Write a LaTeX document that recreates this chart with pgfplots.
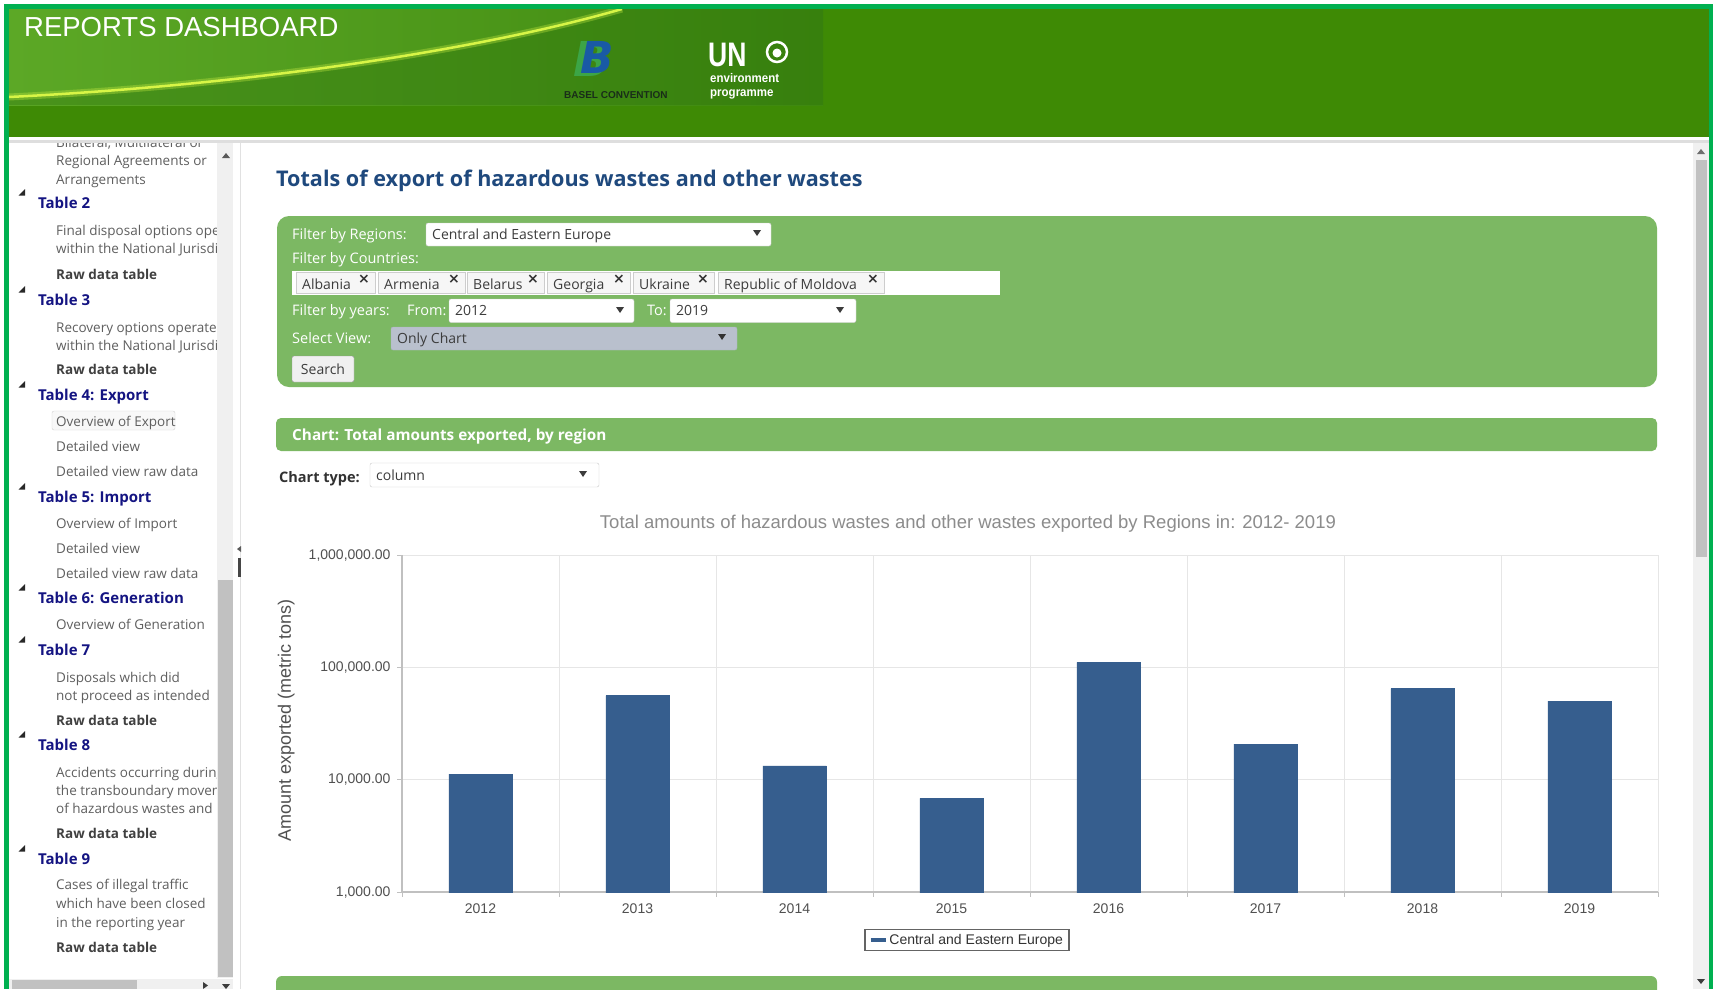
\documentclass[border=0pt]{standalone}
\usepackage{graphicx}
\usepackage{pgfplots}
\pgfplotsset{compat=1.18}
\usepackage{fontspec}
\setmainfont{Open Sans}
\newfontfamily\arial{Liberation Sans}
\newfontfamily\dejavu{DejaVu Sans}
\newcommand{\fs}[1]{\fontsize{#1}{#1}\selectfont}
\definecolor{frame}{RGB}{0,176,80}
\definecolor{hdr}{RGB}{62,138,5}
\definecolor{bnL}{RGB}{92,168,38}
\definecolor{bnM}{RGB}{138,204,55}
\definecolor{bnR}{RGB}{64,138,16}
\definecolor{bnD}{RGB}{40,110,10}
\definecolor{swoosh}{RGB}{215,245,70}
\definecolor{panel}{RGB}{124,184,99}
\definecolor{navy}{RGB}{20,20,130}
\definecolor{ttl}{RGB}{31,73,125}
\definecolor{sbtext}{RGB}{95,95,95}
\definecolor{sbbold}{RGB}{64,64,64}
\definecolor{barc}{RGB}{54,94,142}
\definecolor{gridc}{RGB}{230,230,230}
\definecolor{axc}{RGB}{192,192,192}
\definecolor{lblc}{RGB}{80,80,80}
\definecolor{titc}{RGB}{140,140,140}
\definecolor{trk}{RGB}{240,240,240}
\definecolor{thumb}{RGB}{193,193,193}
\definecolor{selv}{RGB}{185,192,205}
\definecolor{selb}{RGB}{170,178,190}
\definecolor{ddtext}{RGB}{60,60,60}
\definecolor{logoG}{RGB}{60,165,70}
\definecolor{logoB}{RGB}{25,90,165}
\definecolor{bcText}{RGB}{25,45,25}
\definecolor{sepc}{RGB}{222,222,222}
\definecolor{g40}{RGB}{40,40,40}
\definecolor{g50}{RGB}{50,50,50}
\definecolor{g60}{RGB}{60,60,60}
\definecolor{g70}{RGB}{70,70,70}
\definecolor{g90}{RGB}{90,90,90}
\definecolor{g100}{RGB}{100,100,100}
\definecolor{g110}{RGB}{110,110,110}
\definecolor{g150}{RGB}{150,150,150}
\definecolor{g200}{RGB}{200,200,200}
\definecolor{g205}{RGB}{205,205,205}
\definecolor{g210}{RGB}{210,210,210}
\definecolor{g225}{RGB}{225,225,225}
\definecolor{g246}{RGB}{246,246,246}
\definecolor{g248}{RGB}{248,248,248}
\begin{document}
\begin{tikzpicture}
\path[use as bounding box] (0pt,0pt) rectangle (1713pt,-989pt);
\begin{scope}[x=1pt,y=-1pt]
\fill[white] (0,0) rectangle (1713,989);
% ---------- header ----------
\fill[hdr] (9,9) rectangle (1709,137);
\shade[left color=bnL, middle color=bnM, right color=bnR] (9,9) rectangle (823,105);
\fill[bnD, opacity=0.35] (9,105) -- (9,97) .. controls (250,85) and (480,50) .. (622,9) -- (823,9) -- (823,105) -- cycle;
\draw[swoosh, line width=7pt, opacity=0.3] (9,97) .. controls (250,85) and (480,50) .. (622,9);
\draw[swoosh, line width=2.5pt] (9,97) .. controls (250,85) and (480,50) .. (622,9);
\node[anchor=base west, inner sep=0pt, text=white] at (24,36) {\arial\fs{27.5}REPORTS DASHBOARD};
\node[inner sep=0pt, text=logoG] at (592,59) {\dejavu\bfseries\itshape\fs{48}B};
\node[inner sep=0pt, text=logoB] at (597,57) {\dejavu\bfseries\itshape\fs{44}B};
\node[anchor=base west, inner sep=0pt, text=bcText] at (564,98) {\arial\bfseries\fs{10}BASEL CONVENTION};
\node[anchor=base west, inner sep=0pt, text=white] at (708,66) {\arial\bfseries\fs{34}\scalebox{0.78}[1]{UN}};
\draw[white, line width=2.5pt] (777,52) circle (10);
\fill[white] (777,53) circle (4.5);
\node[anchor=base west, inner sep=0pt, text=white] at (710,82) {\arial\bfseries\fs{12.5}\scalebox{0.92}[1]{environment}};
\node[anchor=base west, inner sep=0pt, text=white] at (710,96) {\arial\bfseries\fs{12.5}\scalebox{0.92}[1]{programme}};
% frame
\fill[frame] (4,4) rectangle (1713,9);
\fill[frame] (4,4) rectangle (9,989);
\fill[frame] (1709,4) rectangle (1713,989);
% separator line
\fill[sepc] (9,140) rectangle (1709,143);
% ---------- sidebar ----------
\fill[trk] (217,143) rectangle (233,978);
\fill[thumb] (218,580) rectangle (233,977);
\fill[g90] (222,158) -- (230,158) -- (226,153) -- cycle;
\fill[trk] (9,979) rectangle (233,989);
\fill[thumb] (12,980) rectangle (137,989);
\fill[g60] (203,982) -- (208,985.5) -- (203,989) -- cycle;
\fill[g60] (222,984) -- (230,984) -- (226,989) -- cycle;
\draw[g225, line width=1pt] (240,143) -- (240,989);
\fill[g70] (238,558) rectangle (241,577);
\fill[g90] (241,546) -- (237,549) -- (241,552) -- cycle;
\draw[g210, fill=g248, rounded corners=2pt] (52,411) rectangle (175,430);
\begin{scope}
\clip (9,143) rectangle (216,978);
\foreach \y/\t in {142/{Bilateral, Multilateral or}, 160/{Regional Agreements or}, 179/{Arrangements},
  230/{Final disposal options operated}, 248/{within the National Jurisdiction},
  327/{Recovery options operated}, 345/{within the National Jurisdiction},
  421/{Overview of Export}, 446/{Detailed view}, 471/{Detailed view raw data},
  523/{Overview of Import}, 548/{Detailed view}, 573/{Detailed view raw data},
  624/{Overview of Generation},
  677/{Disposals which did}, 695/{not proceed as intended},
  772/{Accidents occurring during}, 790/{the transboundary movement}, 808/{of hazardous wastes and other wastes},
  884/{Cases of illegal traffic}, 903/{which have been closed}, 922/{in the reporting year}}
  {\node[anchor=base west, inner sep=0pt, text=sbtext] at (56,\y+5) {\fs{13.5}\t};}
\foreach \y in {274,369,720,833,947}
  {\node[anchor=base west, inner sep=0pt, text=sbbold] at (56,\y+5) {\fs{13.5}\bfseries Raw data table};}
\foreach \y/\t in {203/{Table 2}, 300/{Table 3}, 395/{Table 4: Export}, 497/{Table 5: Import}, 598/{Table 6: Generation}, 650/{Table 7}, 745/{Table 8}, 859/{Table 9}}
  {\node[anchor=base west, inner sep=0pt, text=navy] at (38,\y+5.5) {\fs{15}\bfseries\t};
   \fill[g40] (18.5,\y-7.5) -- (25,\y-7.5) -- (25,\y-14) -- cycle;}
\end{scope}
% ---------- right scrollbar ----------
\fill[trk] (1693,143) rectangle (1709,989);
\fill[thumb] (1696,160) rectangle (1707,557);
\fill[g110] (1697,154) -- (1705,154) -- (1701,149) -- cycle;
\fill[g60] (1697,979) -- (1705,979) -- (1701,984) -- cycle;
% ---------- main content ----------
\node[anchor=base west, inner sep=0pt, text=ttl] at (276,186.5) {\fs{21.6}\bfseries Totals of export of hazardous wastes and other wastes};
\fill[panel, rounded corners=12pt] (277,216) rectangle (1657,387);
\node[anchor=base west, inner sep=0pt, text=white] at (292,239) {\fs{14.5}Filter by Regions:};
\draw[g200, fill=white, rounded corners=2pt] (426,223) rectangle (771,246);
\node[anchor=base west, inner sep=0pt, text=ddtext] at (432,239.5) {\fs{14}Central and Eastern Europe};
\fill[g60] (753,230) -- (761,230) -- (757,236) -- cycle;
\node[anchor=base west, inner sep=0pt, text=white] at (292,263) {\fs{14.5}Filter by Countries:};
\fill[white] (292,271) rectangle (1000,295);
\foreach \a/\b/\t in {296/375/Albania, 378/465/Armenia, 467/544/Belarus, 547/630/Georgia, 633/714/Ukraine, 718/884/Republic of Moldova}
  {\draw[g205, fill=g246] (\a,272.5) rectangle (\b,293.5);
   \node[anchor=base west, inner sep=0pt, text=ddtext] at (\a+6,289) {\fs{14}\t};
   \node[inner sep=0pt, text=g50] at (\b-11,279) {\dejavu\bfseries\fs{14}×};}
\node[anchor=base west, inner sep=0pt, text=white] at (292,315) {\fs{14.5}Filter by years:};
\node[anchor=base west, inner sep=0pt, text=white] at (407,315) {\fs{14.5}From:};
\draw[g200, fill=white, rounded corners=2pt] (449,299) rectangle (634,322.5);
\node[anchor=base west, inner sep=0pt, text=ddtext] at (455,315.5) {\fs{14}2012};
\fill[g60] (616,307) -- (624,307) -- (620,313) -- cycle;
\node[anchor=base west, inner sep=0pt, text=white] at (647,315) {\fs{14.5}To:};
\draw[g200, fill=white, rounded corners=2pt] (670,299) rectangle (856,322.5);
\node[anchor=base west, inner sep=0pt, text=ddtext] at (676,315.5) {\fs{14}2019};
\fill[g60] (836,307) -- (844,307) -- (840,313) -- cycle;
\node[anchor=base west, inner sep=0pt, text=white] at (292,343) {\fs{14.5}Select View:};
\draw[selb, fill=selv, rounded corners=2pt] (391,327) rectangle (737,350);
\node[anchor=base west, inner sep=0pt, text=ddtext] at (397,343.5) {\fs{14}Only Chart};
\fill[g50] (718,334) -- (726,334) -- (722,340) -- cycle;
\draw[g150, fill=trk, rounded corners=2pt] (292,356) rectangle (354,382);
\node[inner sep=0pt, text=ddtext] at (323,369) {\fs{14}Search};
\fill[panel, rounded corners=5pt] (276,418) rectangle (1657,451);
\node[anchor=base west, inner sep=0pt, text=white] at (292,440.5) {\fs{15.3}\bfseries Chart: Total amounts exported, by region};
\node[anchor=base west, inner sep=0pt, text=g50] at (279,482) {\fs{14.5}\bfseries Chart type:};
\draw[g200, fill=white, rounded corners=2pt] (370,463) rectangle (599,487);
\node[anchor=base west, inner sep=0pt, text=ddtext] at (376,480) {\fs{14}column};
\fill[g60] (579,471) -- (587,471) -- (583,477) -- cycle;
\fill[panel, rounded corners=6pt] (276,976) rectangle (1657,1000);
\end{scope}
% ---------- chart ----------
\begin{axis}[
  at={(402pt,-892pt)}, anchor=south west,
  scale only axis, width=1256pt, height=337pt,
  xmin=2011.5, xmax=2019.5,
  ymode=log, ymin=1000, ymax=1000000,
  ybar, bar width=63.5pt,
  xtick={2011.5,2012.5,2013.5,2014.5,2015.5,2016.5,2017.5,2018.5,2019.5},
  xticklabels={2012,2013,2014,2015,2016,2017,2018,2019,{}},
  xticklabel style={xshift=78.5pt, yshift=-3pt},
  ytick={1000,10000,100000,1000000},
  yticklabels={{1,000.00},{10,000.00},{100,000.00},{1,000,000.00}},
  yticklabel style={xshift=-3pt},
  yminorticks=false,
  grid=major, grid style={draw=gridc, line width=1pt},
  axis x line*=bottom, axis y line*=left,
  axis line style={draw=axc, line width=1.3pt, -},
  tick align=outside, major tick length=5pt,
  tick style={draw=axc, line width=1pt},
  ticklabel style={font=\arial\fs{14}, text=lblc},
  title={Total amounts of hazardous wastes and other wastes exported by Regions in: 2012- 2019},
  title style={at={(axis description cs:0.4506,1.074)}, anchor=center, font=\arial\fs{18.5}, text=titc},
  ylabel={Amount exported (metric tons)},
  ylabel style={at={(axis description cs:-0.0921,0.51)}, anchor=center, font=\arial\fs{18}, text=lblc},
  legend style={at={(axis description cs:0.4498,-0.1424)}, anchor=center, draw=g100, line width=1.2pt, font=\arial\fs{14}, text=g50, inner xsep=4pt, inner ysep=3pt},
  legend image code/.code={\draw[line width=3.5pt, draw=barc] (0pt,0pt) -- (15pt,0pt);},
]
\addplot[fill=barc, draw=barc] coordinates {(2012,11200) (2013,56100) (2014,13300) (2015,6810) (2016,111000) (2017,20700) (2018,64800) (2019,50000)};
\addlegendentry{Central and Eastern Europe}
\end{axis}
\end{tikzpicture}
\end{document}
